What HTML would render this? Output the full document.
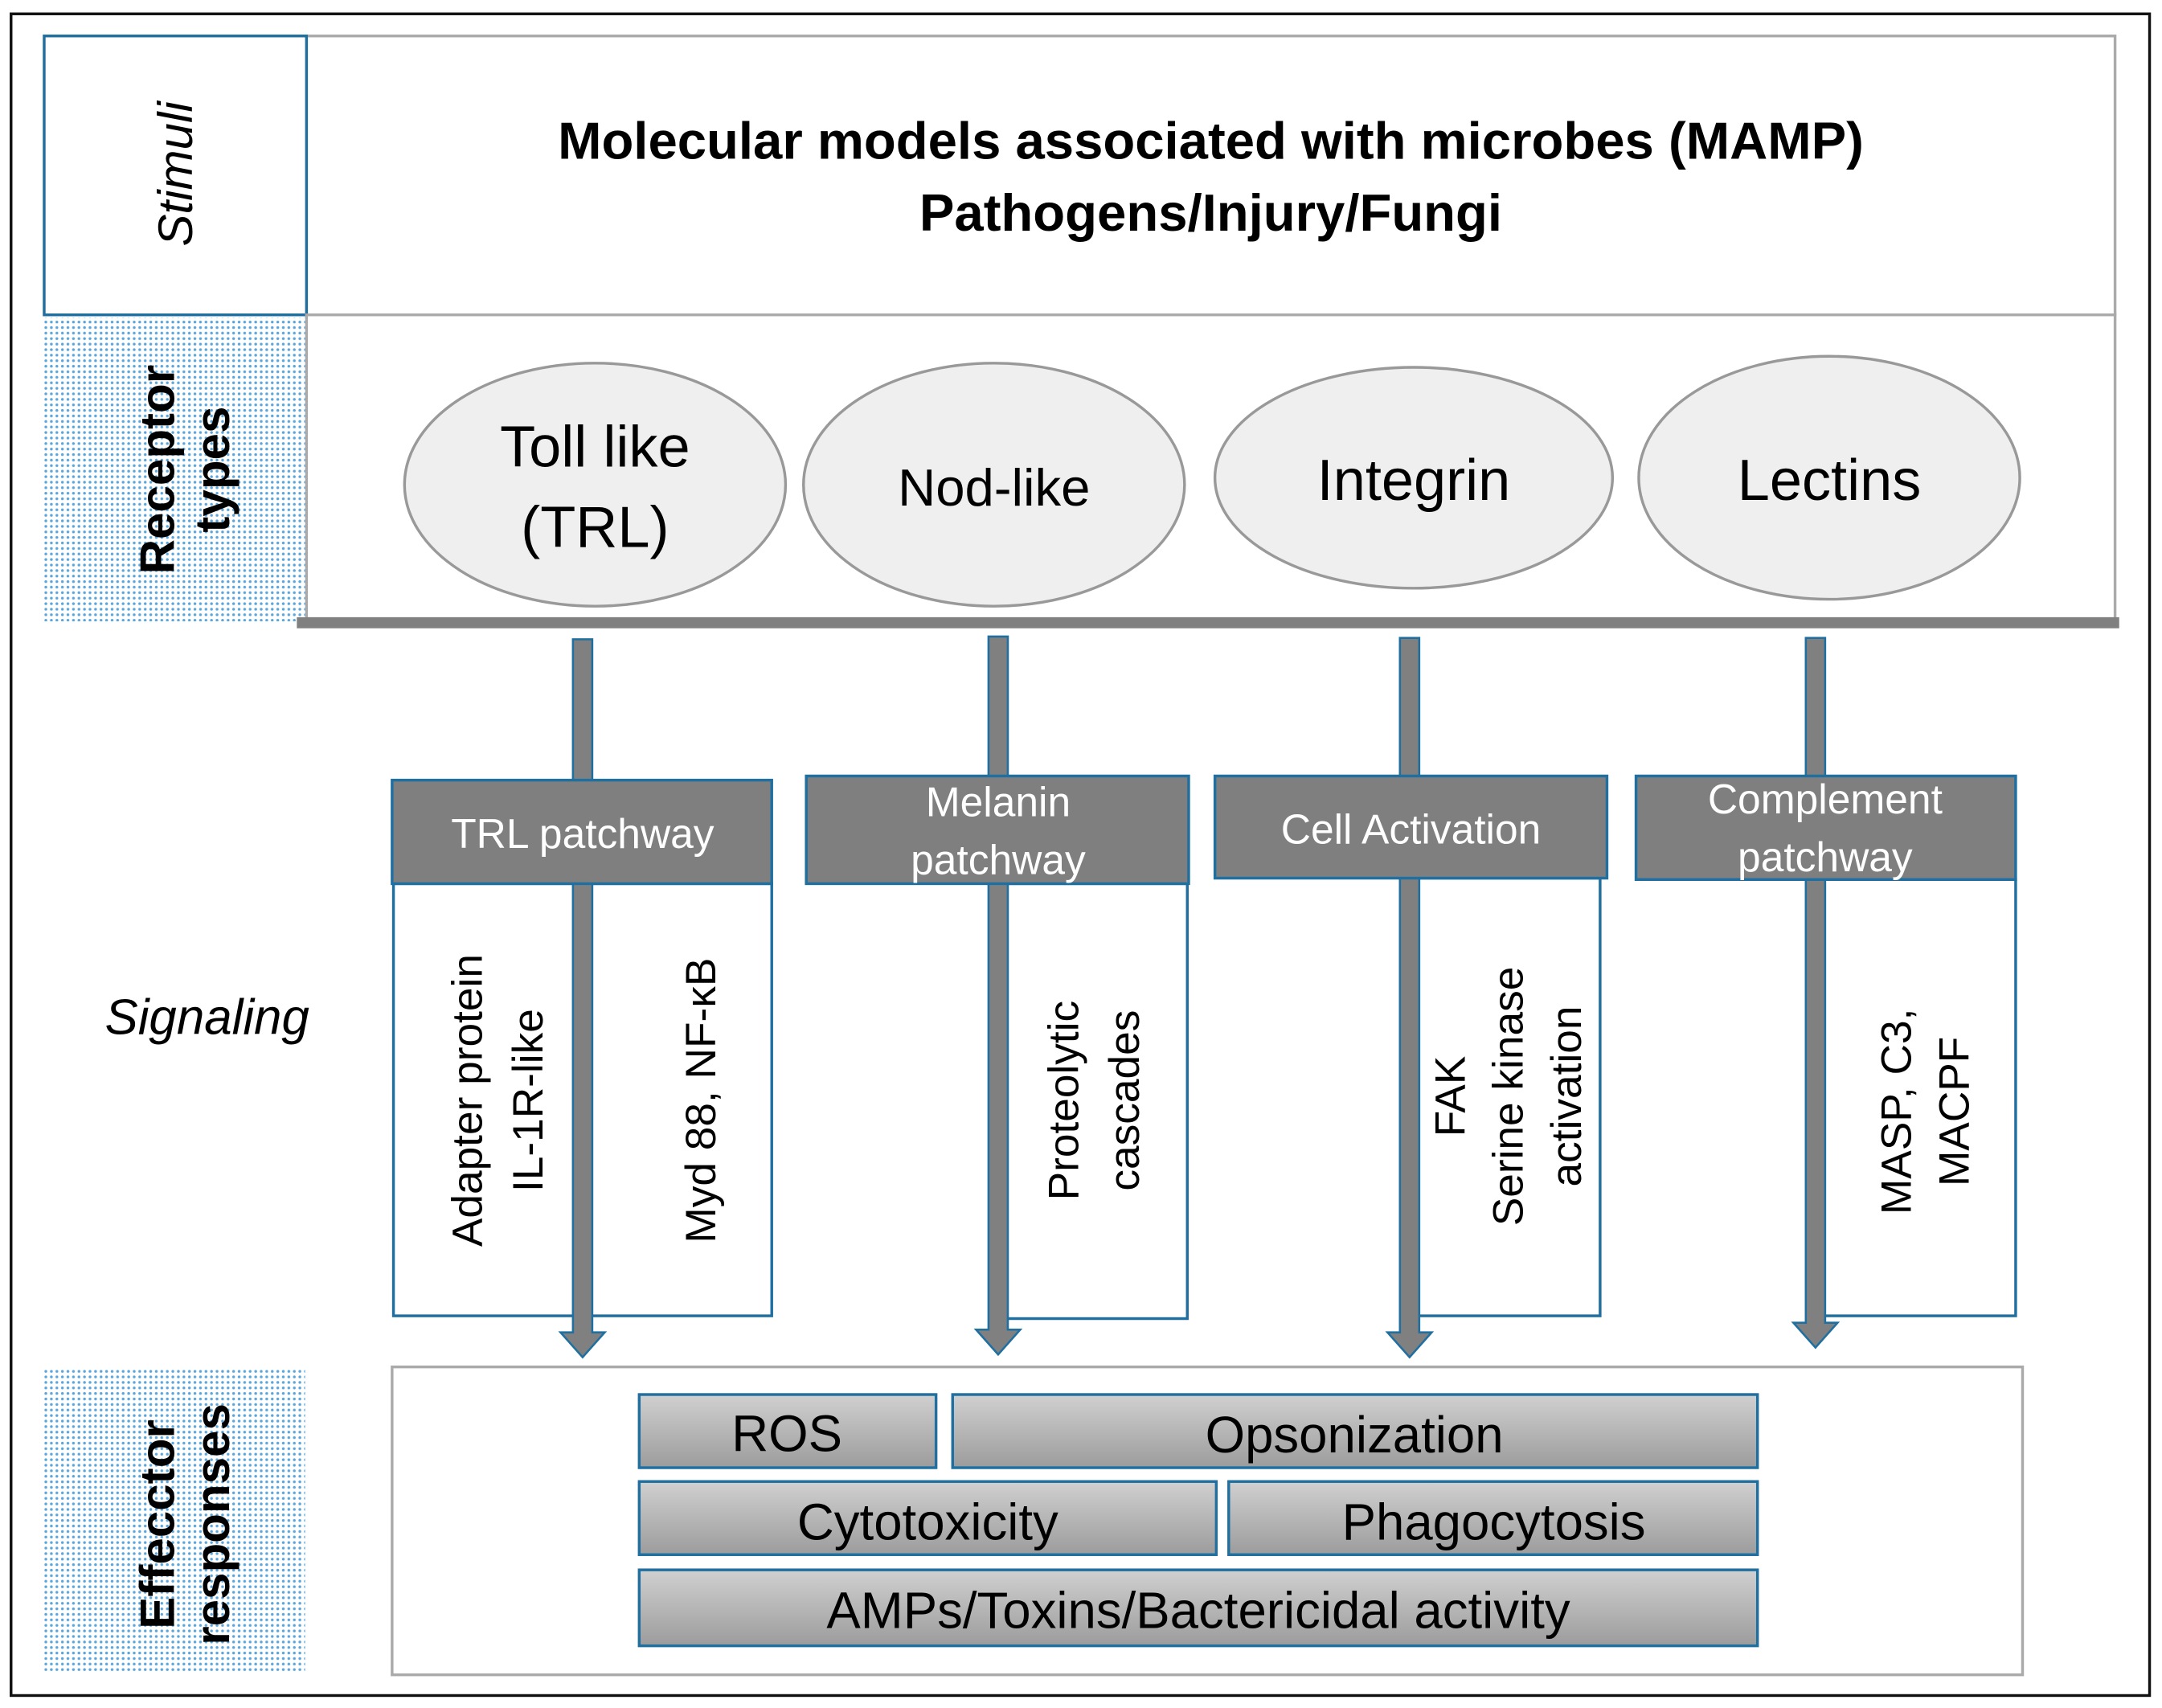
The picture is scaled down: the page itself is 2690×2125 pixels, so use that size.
<!DOCTYPE html>
<html><head><meta charset="utf-8"><style>html,body{margin:0;padding:0;background:#fff}svg{display:block}</style></head>
<body>
<svg width="2690" height="2125" viewBox="0 0 1566 1237" xmlns="http://www.w3.org/2000/svg" font-family="'Liberation Sans', sans-serif">
<defs>
<pattern id="dots" width="4" height="4" patternUnits="userSpaceOnUse">
<rect width="4" height="4" fill="#fff"/>
<circle cx="1.2" cy="1.2" r="1.0" fill="#5aa6dc"/>
</pattern>
<linearGradient id="g" x1="0" y1="0" x2="0" y2="1">
<stop offset="0" stop-color="#d0d0d0"/><stop offset="1" stop-color="#9c9c9c"/>
</linearGradient>
</defs>
<rect x="0" y="0" width="1566" height="1237" fill="#fff"/>
<rect x="8" y="10" width="1549" height="1218" fill="none" stroke="#111" stroke-width="2"/>

<rect x="222" y="26" width="1310" height="202" fill="#fff" stroke="#aaa" stroke-width="2"/>
<rect x="32" y="26" width="190" height="202" fill="#fff" stroke="#1f6fa0" stroke-width="2"/>
<text transform="translate(139,126) rotate(-90)" text-anchor="middle" font-size="35" font-style="italic">Stimuli</text>
<text x="877" y="115" text-anchor="middle" font-size="38" font-weight="bold">Molecular models associated with microbes (MAMP)</text>
<text x="877" y="167" text-anchor="middle" font-size="38" font-weight="bold">Pathogens/Injury/Fungi</text>

<rect x="222" y="228" width="1310" height="220" fill="#fff" stroke="#aaa" stroke-width="2"/>
<rect x="32" y="230" width="189" height="220" fill="url(#dots)"/>
<text transform="translate(126,340) rotate(-90)" text-anchor="middle" font-size="35" font-weight="bold"><tspan x="0" dy="0">Receptor</tspan><tspan x="0" dy="40">types</tspan></text>
<rect x="215" y="447" width="1320" height="8" fill="#808080"/>
<g fill="#efefef" stroke="#999" stroke-width="2">
<ellipse cx="431" cy="351" rx="138" ry="88"/>
<ellipse cx="720" cy="351" rx="138" ry="88"/>
<ellipse cx="1024" cy="346" rx="144" ry="80"/>
<ellipse cx="1325" cy="346" rx="138" ry="88"/>
</g>
<g font-size="42" text-anchor="middle">
<text x="431" y="338">Toll like</text>
<text x="431" y="396">(TRL)</text>
<text x="720" y="366" font-size="38">Nod-like</text>
<text x="1024" y="362">Integrin</text>
<text x="1325" y="362">Lectins</text>
</g>

<text x="150" y="749" text-anchor="middle" font-size="36" font-style="italic">Signaling</text>

<g fill="#fff" stroke="#1f6fa0" stroke-width="2">
<rect x="285" y="640" width="274" height="313"/>
<rect x="723" y="640" width="137" height="315"/>
<rect x="1021" y="636" width="138" height="317"/>
<rect x="1315" y="637" width="145" height="316"/>
</g>

<g fill="#808080" stroke="#1f6fa0" stroke-width="1.5">
<path d="M415,463 H429 V965 H438 L422,983 L406,965 H415 Z"/>
<path d="M716,461 H730 V963 H739 L723,981 L707,963 H716 Z"/>
<path d="M1014,462 H1028 V965 H1037 L1021,983 L1005,965 H1014 Z"/>
<path d="M1308,462 H1322 V958 H1331 L1315,976 L1299,958 H1308 Z"/>
</g>

<g fill="#7f7f7f" stroke="#1f6fa0" stroke-width="2">
<rect x="284" y="565" width="275" height="75"/>
<rect x="584" y="562" width="277" height="78"/>
<rect x="880" y="562" width="284" height="74"/>
<rect x="1185" y="562" width="275" height="75"/>
</g>
<g fill="#fff" font-size="30" text-anchor="middle">
<text x="422" y="614">TRL patchway</text>
<text x="723" y="591">Melanin</text>
<text x="723" y="633">patchway</text>
<text x="1022" y="611">Cell Activation</text>
<text x="1322" y="589">Complement</text>
<text x="1322" y="631">patchway</text>
</g>

<g font-size="31" text-anchor="middle">
<text transform="translate(349,797) rotate(-90)"><tspan x="0" dy="0">Adapter protein</tspan><tspan x="0" dy="44">IL-1R-like</tspan></text>
<text transform="translate(518,797) rotate(-90)">Myd  88, NF-κB</text>
<text transform="translate(781,797) rotate(-90)"><tspan x="0" dy="0">Proteolytic</tspan><tspan x="0" dy="44">cascades</tspan></text>
<text transform="translate(1061,794) rotate(-90)"><tspan x="0" dy="0">FAK</tspan><tspan x="0" dy="42">Serine kinase</tspan><tspan x="0" dy="42">activation</tspan></text>
<text transform="translate(1384,805) rotate(-90)"><tspan x="0" dy="0">MASP, C3,</tspan><tspan x="0" dy="42">MACPF</tspan></text>
</g>

<rect x="32" y="992" width="189" height="220" fill="url(#dots)"/>
<text transform="translate(126,1104) rotate(-90)" text-anchor="middle" font-size="35" font-weight="bold"><tspan x="0" dy="0">Effecctor</tspan><tspan x="0" dy="40">responses</tspan></text>
<rect x="284" y="990" width="1181" height="223" fill="#fff" stroke="#aaa" stroke-width="2"/>
<g fill="url(#g)" stroke="#1f6fa0" stroke-width="2">
<rect x="463" y="1010" width="215" height="53"/>
<rect x="690" y="1010" width="583" height="53"/>
<rect x="463" y="1073" width="418" height="53"/>
<rect x="890" y="1073" width="383" height="53"/>
<rect x="463" y="1137" width="810" height="55"/>
</g>
<g font-size="37" text-anchor="middle">
<text x="570" y="1051">ROS</text>
<text x="981" y="1052">Opsonization</text>
<text x="672" y="1115">Cytotoxicity</text>
<text x="1082" y="1115">Phagocytosis</text>
<text x="868" y="1179">AMPs/Toxins/Bactericidal activity</text>
</g>
</svg>
</body></html>
